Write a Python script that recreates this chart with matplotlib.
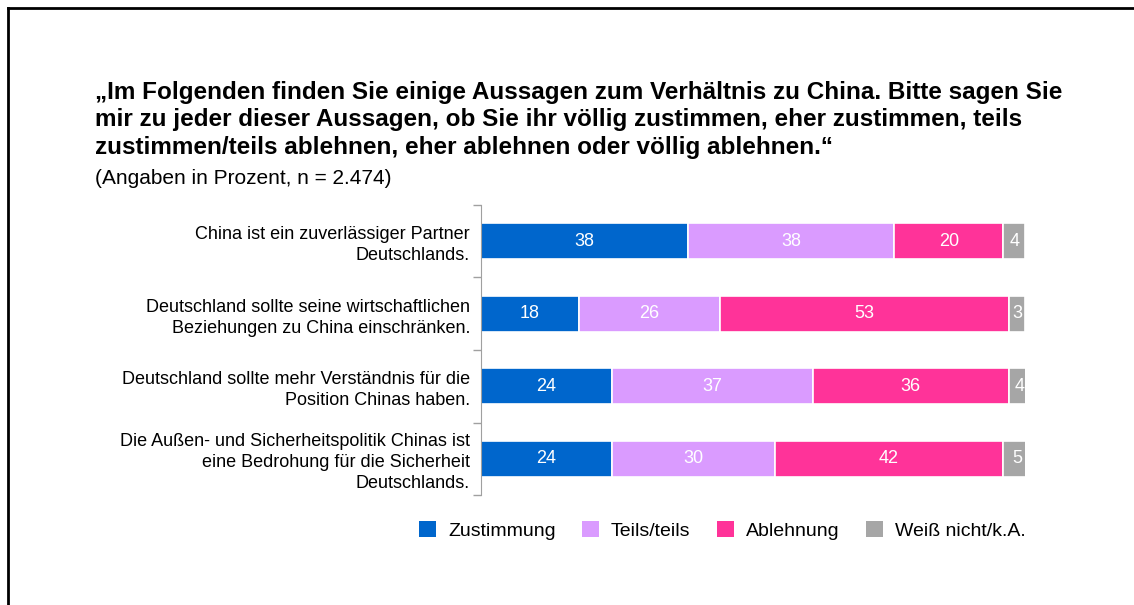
import numpy as np
import matplotlib
matplotlib.use("Agg")
import matplotlib.pyplot as plt
from matplotlib.lines import Line2D
from matplotlib.patches import Patch

plt.rcParams.update({"font.family": ["Liberation Sans", "DejaVu Sans"]})

# Daten (Angaben in Prozent)
aussagen = [
    "China ist ein zuverlässiger Partner\nDeutschlands.",
    "Deutschland sollte seine wirtschaftlichen\nBeziehungen zu China einschränken.",
    "Deutschland sollte mehr Verständnis für die\nPosition Chinas haben.",
    "Die Außen- und Sicherheitspolitik Chinas ist\neine Bedrohung für die Sicherheit\nDeutschlands.",
]
kategorien = ["Zustimmung", "Teils/teils", "Ablehnung", "Weiß nicht/k.A."]
zustimmung = [38, 18, 24, 24]
teils = [38, 26, 37, 30]
ablehnung = [20, 53, 36, 42]
weiss_nicht = [4, 3, 4, 5]
farben = ["#0066CC", "#DA9BFF", "#FF3399", "#A6A6A6"]

serien = [zustimmung, teils, ablehnung, weiss_nicht]

fig = plt.figure(figsize=(11.34, 6.05), dpi=100)
ax = fig.add_axes([0.4242, 0.1818, 0.4797, 0.4794])

y = np.arange(len(aussagen))
left = np.zeros(len(aussagen))
for werte, farbe in zip(serien, farben):
    werte = np.array(werte, dtype=float)
    bars = ax.barh(y, werte, left=left, height=0.49, color=farbe,
                   edgecolor="white", linewidth=1.2)
    for b, v in zip(bars, werte):
        ax.text(b.get_x() + b.get_width() / 2, b.get_y() + b.get_height() / 2,
                "%d" % v, ha="center", va="center", color="white", fontsize=13)
    left += werte

ax.set_xlim(0, 100)
ax.set_ylim(3.5, -0.5)
ax.set_xticks([])
ax.set_yticks(y)
ax.set_yticklabels(aussagen, fontsize=13, linespacing=1.3)
ax.set_yticks(np.arange(-0.5, 4, 1), minor=True)
ax.tick_params(axis="y", which="major", length=0, pad=8)
ax.tick_params(axis="y", which="minor", length=6, color="#A0A0A0", width=1)
for s in ["top", "right", "bottom"]:
    ax.spines[s].set_visible(False)
ax.spines["left"].set_color("#A0A0A0")

# Titel
fig.text(0.0838, 0.866, "„Im Folgenden finden Sie einige Aussagen zum Verhältnis zu China. Bitte sagen Sie\n"
         "mir zu jeder dieser Aussagen, ob Sie ihr völlig zustimmen, eher zustimmen, teils\n"
         "zustimmen/teils ablehnen, eher ablehnen oder völlig ablehnen.“",
         fontsize=17.5, fontweight="bold", va="top", ha="left", linespacing=1.24)
fig.text(0.0838, 0.705, "(Angaben in Prozent, n = 2.474)", fontsize=15, va="center", ha="left")

# Legende
handles = [Patch(facecolor=f, edgecolor="none") for f in farben]
fig.legend(handles, kategorien, loc="center", bbox_to_anchor=(0.637, 0.123), ncol=4,
           frameon=False, fontsize=14, handlelength=0.9, handleheight=0.9,
           handletextpad=0.6, columnspacing=1.35)

# Rahmen oben und links
fig.add_artist(Line2D([0.007, 1.0], [0.987, 0.987], color="black", lw=2, transform=fig.transFigure))
fig.add_artist(Line2D([0.007, 0.007], [0.0, 0.987], color="black", lw=2, transform=fig.transFigure))

fig.savefig("out.png", dpi=100)
